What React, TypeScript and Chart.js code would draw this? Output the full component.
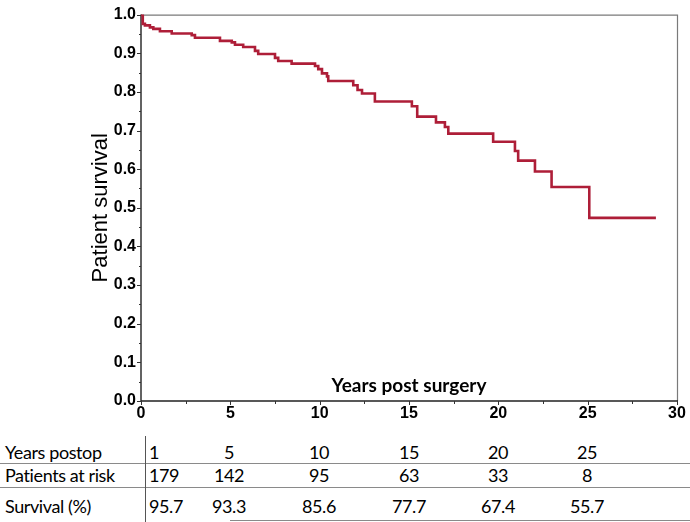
import React, { useEffect, useRef } from 'react';
import { Chart, registerables } from 'chart.js';

Chart.register(...registerables);

// Kaplan-Meier step points: time of each drop (years) and survival after it
const eventYears = [0, 0.1, 0.22, 0.5, 0.69, 1.06, 1.72, 2.84, 3.02, 4.42, 5.08, 5.26, 5.72, 6.38, 6.56, 7.5, 7.68, 8.43, 9.74, 9.92, 10.13, 10.41, 10.48, 11.88, 12.12, 12.37, 13.09, 15.16, 15.46, 16.51, 17.01, 17.2, 19.71, 20.93, 21.11, 22.05, 22.98, 25.09, 28.82];
const survival = [1.0, 0.976, 0.972, 0.967, 0.963, 0.957, 0.951, 0.947, 0.94, 0.932, 0.928, 0.922, 0.916, 0.906, 0.898, 0.888, 0.88, 0.873, 0.867, 0.859, 0.848, 0.84, 0.828, 0.817, 0.805, 0.796, 0.775, 0.763, 0.736, 0.721, 0.709, 0.692, 0.671, 0.647, 0.622, 0.594, 0.554, 0.474, 0.474];

const xTickValues = [0, 5, 10, 15, 20, 25, 30];
const yTickLabels = ['0.0', '0.1', '0.2', '0.3', '0.4', '0.5', '0.6', '0.7', '0.8', '0.9', '1.0'];

const yearsPostop = ['1', '5', '10', '15', '20', '25'];
const patientsAtRisk = ['179', '142', '95', '63', '33', '8'];
const survivalPct = ['95.7', '93.3', '85.6', '77.7', '67.4', '55.7'];

const yTitle = 'Patient survival';
const xTitle = 'Years post surgery';
const rowLabels = ['Years postop', 'Patients at risk', 'Survival (%)'];

const CURVE = '#AE1E38';
const TICK_FONT = { family: '"Liberation Sans", Arial, sans-serif', weight: 'bold' as const, size: 16 };

const decorPlugin = {
  id: 'decor',
  beforeDatasetsDraw(chart: any) {
    const { ctx, chartArea: a, scales } = chart;
    ctx.save();
    // gray frame top/right
    ctx.strokeStyle = '#7a7a7a';
    ctx.lineWidth = 1.2;
    ctx.beginPath();
    ctx.moveTo(a.left, a.top + 0.5);
    ctx.lineTo(a.right + 0.5, a.top + 0.5);
    ctx.lineTo(a.right + 0.5, a.bottom);
    ctx.stroke();
    // black axes left/bottom
    ctx.strokeStyle = '#222';
    ctx.lineWidth = 1.4;
    ctx.beginPath();
    ctx.moveTo(a.left, a.top);
    ctx.lineTo(a.left, a.bottom);
    ctx.lineTo(a.right + 1, a.bottom);
    ctx.stroke();
    // ticks
    ctx.lineWidth = 1;
    ctx.strokeStyle = '#333';
    const xs = scales.x;
    for (let v = 0; v <= 30.001; v += 2.5) {
      const px = Math.round(xs.getPixelForValue(v)) + 0.5;
      const major = Math.abs(v % 5) < 0.001;
      ctx.beginPath();
      ctx.moveTo(px, a.bottom);
      ctx.lineTo(px, a.bottom + (major ? 4 : 3));
      ctx.stroke();
    }
    const ys = scales.y;
    for (let i = 0; i <= 20; i++) {
      const v = i * 0.05;
      const py = Math.round(ys.getPixelForValue(v)) + 0.5;
      const major = i % 2 === 0;
      ctx.beginPath();
      ctx.moveTo(a.left - (major ? 4 : 2), py);
      ctx.lineTo(a.left, py);
      ctx.stroke();
    }
    // titles
    ctx.fillStyle = '#000';
    ctx.font = 'bold 19px Lato, "Open Sans", sans-serif';
    ctx.textAlign = 'center';
    ctx.textBaseline = 'alphabetic';
    ctx.fillText(xTitle, (a.left + a.right) / 2, a.bottom - 9);
    ctx.translate(101, (a.top + a.bottom) / 2);
    ctx.rotate(-Math.PI / 2);
    ctx.font = '22px "Liberation Sans", Arial, sans-serif';
    ctx.textBaseline = 'middle';
    ctx.fillText(yTitle, 0, 0);
    ctx.restore();
  },
};

function KMChart() {
  const ref = useRef<HTMLCanvasElement | null>(null);
  useEffect(() => {
    if (!ref.current) return;
    const chart = new Chart(ref.current, {
      type: 'line',
      data: {
        datasets: [
          {
            data: eventYears.map((x, i) => ({ x, y: survival[i] })),
            stepped: true,
            borderColor: CURVE,
            borderWidth: 2.6,
            pointRadius: 0,
            fill: false,
          },
        ],
      },
      options: {
        animation: false,
        responsive: false,
        events: [],
        layout: { padding: { left: 0, right: 13, top: 2, bottom: 0 } },
        plugins: { legend: { display: false }, tooltip: { enabled: false } },
        scales: {
          x: {
            type: 'linear',
            min: 0,
            max: 30,
            afterBuildTicks: (s: any) => {
              s.ticks = xTickValues.map((v) => ({ value: v }));
            },
            ticks: { font: TICK_FONT, color: '#000', padding: 3, maxRotation: 0, autoSkip: false, callback: (v: any) => String(v) },
            grid: { display: false, drawTicks: false },
            border: { display: false },
            afterFit: (s: any) => {
              s.height = 24;
            },
          },
          y: {
            type: 'linear',
            min: 0,
            max: 1,
            afterBuildTicks: (s: any) => {
              s.ticks = yTickLabels.map((_, i) => ({ value: i / 10 }));
            },
            ticks: {
              font: TICK_FONT,
              color: '#000',
              padding: 5,
              autoSkip: false,
              callback: (_v: any, i: number) => yTickLabels[i],
            },
            grid: { display: false, drawTicks: false },
            border: { display: false },
            afterFit: (s: any) => {
              s.width = 141;
            },
          },
        },
      },
      plugins: [decorPlugin],
    });
    return () => chart.destroy();
  }, []);
  return <canvas ref={ref} width={690} height={425} style={{ position: 'absolute', left: 0, top: 0 }} />;
}

const colCenters = [0, 229, 319, 409, 498, 587];
const rowCenters = [452, 475, 506];

export default function App() {
  const rows = [yearsPostop, patientsAtRisk, survivalPct];
  const textStyle: React.CSSProperties = {
    position: 'absolute',
    fontFamily: 'Lato, "Open Sans", sans-serif',
    fontSize: 18,
    letterSpacing: '-0.4px',
    lineHeight: '20px',
    height: 20,
    color: '#000',
    whiteSpace: 'nowrap',
  };
  return (
    <div style={{ position: 'absolute', left: 0, top: 0, width: 690, height: 522, background: '#fff', overflow: 'hidden' }}>
      <KMChart />
      {rows.map((row, r) => (
        <React.Fragment key={r}>
          <div style={{ ...textStyle, left: 5, top: rowCenters[r] - 10 }}>{rowLabels[r]}</div>
          {row.map((cell, c) =>
            c === 0 ? (
              <div key={c} style={{ ...textStyle, left: 149, top: rowCenters[r] - 10 }}>{cell}</div>
            ) : (
              <div key={c} style={{ ...textStyle, left: colCenters[c] - 40, width: 80, textAlign: 'center', top: rowCenters[r] - 10 }}>{cell}</div>
            )
          )}
        </React.Fragment>
      ))}
      <div style={{ position: 'absolute', left: 0, top: 463, width: 690, height: 1, background: '#8a8a8a' }} />
      <div style={{ position: 'absolute', left: 0, top: 487, width: 690, height: 1, background: '#8a8a8a' }} />
      <div style={{ position: 'absolute', left: 230, top: 520, width: 460, height: 1, background: '#8a8a8a' }} />
      <div style={{ position: 'absolute', left: 145, top: 436, width: 1, height: 86, background: '#555' }} />
    </div>
  );
}
